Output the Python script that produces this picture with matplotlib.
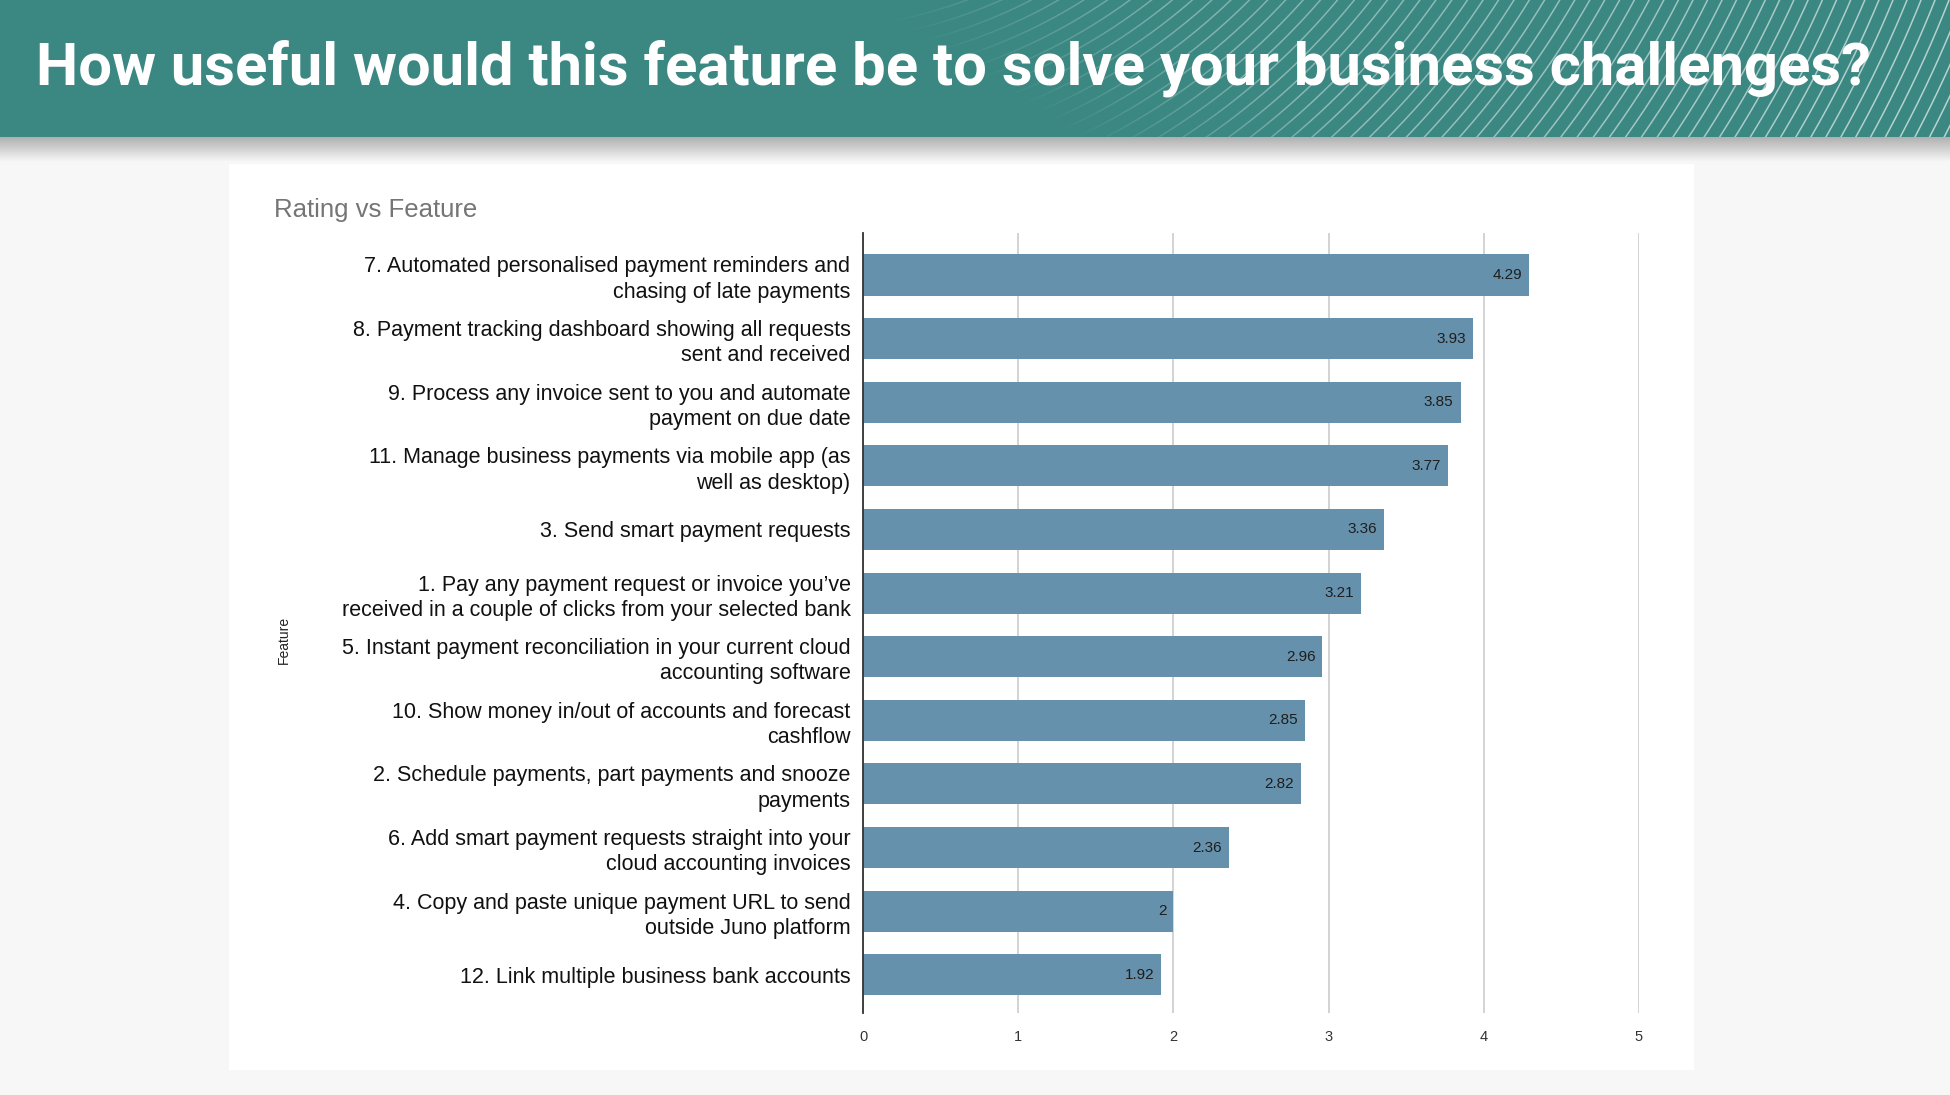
import numpy as np
import matplotlib
matplotlib.use("Agg")
from matplotlib import pyplot as plt
from matplotlib.patches import Rectangle
from matplotlib.colors import LinearSegmentedColormap, to_rgb

W, H = 1950, 1095
HEADER_H = 137

features = [
    "7. Automated personalised payment reminders and\nchasing of late payments",
    "8. Payment tracking dashboard showing all requests\nsent and received",
    "9. Process any invoice sent to you and automate\npayment on due date",
    "11. Manage business payments via mobile app (as\nwell as desktop)",
    "3. Send smart payment requests",
    "1. Pay any payment request or invoice you\u2019ve\nreceived in a couple of clicks from your selected bank",
    "5. Instant payment reconciliation in your current cloud\naccounting software",
    "10. Show money in/out of accounts and forecast\ncashflow",
    "2. Schedule payments, part payments and snooze\npayments",
    "6. Add smart payment requests straight into your\ncloud accounting invoices",
    "4. Copy and paste unique payment URL to send\noutside Juno platform",
    "12. Link multiple business bank accounts",
]
ratings = [4.29, 3.93, 3.85, 3.77, 3.36, 3.21, 2.96, 2.85, 2.82, 2.36, 2, 1.92]
x_ticks = [0, 1, 2, 3, 4, 5]

TEAL = "#3b8782"
BAR = "#6691ac"

plt.rcParams["font.family"] = ["Liberation Sans", "DejaVu Sans"]

fig = plt.figure(figsize=(W / 100, H / 100), dpi=100)
fig.patch.set_facecolor("#f7f7f7")

# background layer in pixel coordinates (y down)
bg = fig.add_axes([0, 0, 1, 1])
bg.set_xlim(0, W)
bg.set_ylim(H, 0)
bg.axis("off")

# header shadow
shadow = np.linspace(0, 1, 40).reshape(-1, 1)
bg.imshow(shadow, cmap=LinearSegmentedColormap.from_list("sh", ["#a8a8a8", "#f7f7f7"]),
          extent=(0, W, 162, HEADER_H - 3), aspect="auto", zorder=1)

# card
bg.add_patch(Rectangle((229, 164), 1694 - 229, 1070 - 164, facecolor="white",
                       edgecolor="none", zorder=2))
bg.text(274, 210, "Rating vs Feature", color="#757575", fontsize=18.5,
        ha="left", va="center", zorder=4)
bg.text(284, 640, "Feature", color="#222222", fontsize=10, rotation=90,
        ha="center", va="center", zorder=4)

# header band with its decorative arcs
hd = fig.add_axes([0, 1 - HEADER_H / H, 1, HEADER_H / H])
hd.set_xlim(0, W)
hd.set_ylim(HEADER_H, 0)
hd.axis("off")
hd.add_patch(Rectangle((0, 0), W, HEADER_H, facecolor=TEAL, edgecolor="none", zorder=1))
cx, cy = 800, -450
t = np.linspace(0, np.pi / 2, 600)
radii = np.arange(480, 1300, 13)
for r in radii:
    hd.plot(cx + r * np.cos(t), cy + r * np.sin(t), color="white", lw=1.1,
            alpha=0.3 + 0.35 * (r - radii[0]) / (radii[-1] - radii[0]), zorder=2)

# fade the arcs out towards the lower left
gx, gy = np.meshgrid(np.arange(W), np.arange(HEADER_H))
edge = 930 + (1150 - 930) * gy / HEADER_H
fade = np.zeros((HEADER_H, W, 4))
fade[..., :3] = to_rgb(TEAL)
fade[..., 3] = np.clip((edge + 220 - gx) / 300, 0, 1)
hd.imshow(fade, extent=(0, W, HEADER_H, 0), aspect="auto", zorder=3,
          interpolation="bilinear")

hd.text(36, 68, "How useful would this feature be to solve your business challenges?",
        color="white", fontsize=43, fontweight="bold", family=["Roboto", "DejaVu Sans"],
        ha="left", va="center", zorder=4)
hd.set_xlim(0, W)
hd.set_ylim(HEADER_H, 0)

# chart
ax = fig.add_axes([863 / W, 1 - 1013 / H, 776 / W, 780 / H])
ax.set_facecolor("none")
y = np.arange(len(features))
ax.barh(y, ratings, height=0.645, color=BAR, zorder=3)
for yi, v in zip(y, ratings):
    ax.text(v - 0.045, yi, f"{v:g}", ha="right", va="center", fontsize=11,
            color="#1e1e1e", zorder=4)

ax.set_xlim(0, 5)
ax.set_ylim(11.6, -0.66)
ax.set_xticks(x_ticks)
ax.set_xticklabels([str(t) for t in x_ticks], fontsize=10.5, color="#333333")
ax.set_yticks(y)
ax.set_yticklabels(features, fontsize=15.5, color="#111111", ha="right",
                   linespacing=1.26)
ax.tick_params(axis="both", length=0)
ax.tick_params(axis="y", pad=9)
ax.tick_params(axis="x", pad=12)
ax.grid(axis="x", color="#cccccc", lw=1.2, zorder=0)
for s in ["top", "right", "bottom"]:
    ax.spines[s].set_visible(False)
ax.spines["left"].set_color("#333333")
ax.spines["left"].set_linewidth(1.3)
ax.spines["left"].set_zorder(5)

fig.savefig("out.png", dpi=100, facecolor=fig.get_facecolor())
